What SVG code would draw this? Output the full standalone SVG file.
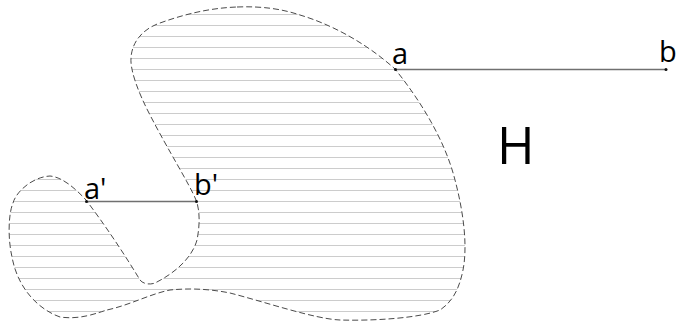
<svg xmlns="http://www.w3.org/2000/svg" width="683" height="323" viewBox="0 0 683 323">
  <style>
    .outline { fill: url(#hatch); stroke: #4a4a4a; stroke-width: 1; stroke-dasharray: 6 3; }
    .seg { stroke: #707070; stroke-width: 1.5; fill: none; }
    .pt { fill: #111; }
    .lbl { font-family: "Open Sans", "Liberation Sans", sans-serif; font-size: 29px; fill: #000; }
    .big { font-family: "Open Sans", "Liberation Sans", sans-serif; font-size: 51px; fill: #000; }
  </style>
  <defs>
    <pattern id="hatch" patternUnits="userSpaceOnUse" x="0" y="0" width="20" height="11">
      <rect x="0" y="0" width="20" height="11" fill="#ffffff"/>
      <rect x="0" y="3" width="20" height="1" fill="#cccccc"/>
    </pattern>
  </defs>
  <rect width="683" height="323" fill="#ffffff"/>

  <g id="region-H">
    <path class="outline" d="M 237,7 C 262,6 282,9 300,15 C 330,24 365,42 395,69 C 420,100 445,140 455,180 C 463,210 468,245 463,270 C 459,290 452,302 440,310 C 420,318 375,321 340,320 C 315,319 265,302 230,293 C 210,289 190,288 170,290 C 150,294 130,305 107,310 C 97,313 80,320 60,317 C 40,310 18,290 12,257 C 8,240 8,215 13,203 C 16,192 32,177 50,176 C 62,177 75,188 86,200 C 105,225 125,255 140,280 C 143,284 150,285 155,283 C 175,273 192,258 197,240 C 200,225 200,210 196,200 C 190,185 168,150 150,115 C 138,92 130,70 131,58 C 132,40 145,28 160,23 C 185,14 210,8 237,7 Z"/>
    <text class="big" x="497" y="164">H</text>
  </g>

  <g id="connectors">
    <line class="seg" x1="395.5" y1="69.5" x2="666" y2="69.5"/>
    <line class="seg" x1="86.5" y1="201.5" x2="196.5" y2="201.5"/>
  </g>

  <g id="point-a">
    <circle class="pt" cx="395.5" cy="69.5" r="1.5"/>
    <text class="lbl" x="392" y="64">a</text>
  </g>
  <g id="point-b">
    <circle class="pt" cx="666" cy="69.5" r="1.5"/>
    <text class="lbl" x="659" y="62">b</text>
  </g>
  <g id="point-a-prime">
    <circle class="pt" cx="86.5" cy="201.5" r="1.5"/>
    <text class="lbl" x="84" y="199">a'</text>
  </g>
  <g id="point-b-prime">
    <circle class="pt" cx="196.5" cy="201.5" r="1.5"/>
    <text class="lbl" x="194" y="195">b'</text>
  </g>
</svg>
